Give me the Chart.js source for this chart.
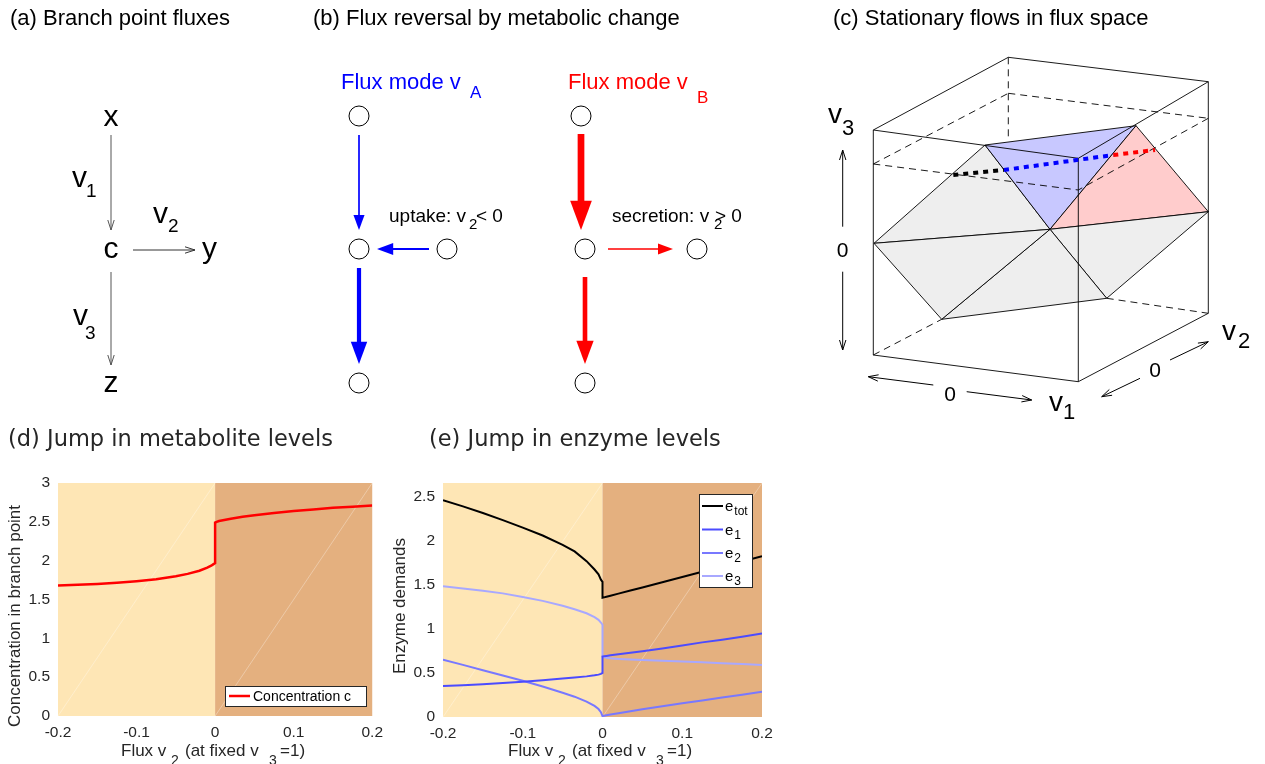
<!DOCTYPE html>
<html>
<head>
<meta charset="utf-8">
<title>Branch point flux reversal</title>
<script src="https://cdn.jsdelivr.net/npm/chart.js@4.4.1/dist/chart.umd.min.js"></script>
<style>
  html, body { margin: 0; padding: 0; background: #fff; }
  body { position: relative; width: 1265px; height: 764px; overflow: hidden; }
  canvas { position: absolute; }
</style>
</head>
<body>
<canvas id="diagram" width="1265" height="420" style="left:0;top:0"></canvas>
<canvas id="chartD" width="390" height="344" style="left:0;top:420px"></canvas>
<canvas id="chartE" width="390" height="344" style="left:390px;top:420px"></canvas>
<script>
const FONT = '"Liberation Sans", Arial, sans-serif';
const TITLE_FONT = '"DejaVu Sans", sans-serif';
Chart.defaults.font.family = FONT;
Chart.defaults.color = '#262626';

// ---- (d), (e): sweep of v2 at fixed v3 = 1 ----
const v2Left  = [-0.2, -0.175, -0.15, -0.125, -0.1, -0.075, -0.05, -0.035, -0.02, -0.01, -0.005, -0.002, 0];
const v2Right = [0, 0.002, 0.005, 0.01, 0.02, 0.035, 0.05, 0.075, 0.1, 0.125, 0.15, 0.175, 0.2];

const concLeft  = [1.68, 1.69, 1.70, 1.715, 1.735, 1.76, 1.80, 1.83, 1.87, 1.91, 1.935, 1.955, 1.97];
const concRight = [2.49, 2.50, 2.51, 2.52, 2.54, 2.565, 2.585, 2.615, 2.64, 2.66, 2.68, 2.695, 2.71];

const eTotLeft  = [2.455, 2.385, 2.31, 2.23, 2.145, 2.055, 1.95, 1.875, 1.765, 1.67, 1.615, 1.555, 1.53];
const eTotRight = [1.35, 1.355, 1.362, 1.374, 1.397, 1.432, 1.467, 1.526, 1.585, 1.644, 1.703, 1.762, 1.82];
const e1Left  = [0.35, 0.36, 0.372, 0.385, 0.40, 0.415, 0.435, 0.447, 0.46, 0.472, 0.48, 0.488, 0.50];
const e1Right = [0.685, 0.688, 0.692, 0.698, 0.71, 0.728, 0.745, 0.777, 0.81, 0.845, 0.875, 0.91, 0.945];
const e2Left  = [0.65, 0.59, 0.53, 0.47, 0.41, 0.345, 0.275, 0.23, 0.175, 0.125, 0.09, 0.055, 0.01];
const e2Right = [0.01, 0.015, 0.02, 0.028, 0.043, 0.065, 0.088, 0.122, 0.155, 0.188, 0.22, 0.252, 0.285];
const e3Left  = [1.48, 1.455, 1.43, 1.40, 1.36, 1.315, 1.26, 1.22, 1.175, 1.13, 1.1, 1.07, 1.045];
const e3Right = [0.685, 0.678, 0.672, 0.665, 0.658, 0.65, 0.645, 0.636, 0.628, 0.62, 0.61, 0.60, 0.59];

const xTicks  = [-0.2, -0.1, 0, 0.1, 0.2];
const yTicksD = [0, 0.5, 1, 1.5, 2, 2.5, 3];
const yTicksE = [0, 0.5, 1, 1.5, 2, 2.5];
const enzymeNames = ['e_tot', 'e_1', 'e_2', 'e_3'];

// ---- (b): flux modes A and B (arrow weight ~ flux size) ----
const modeNodes = [
  { x: 359, y: 116 }, { x: 359, y: 249 }, { x: 359, y: 383 }, { x: 447, y: 249 },
  { x: 581, y: 116 }, { x: 585, y: 249 }, { x: 585, y: 383 }, { x: 697, y: 249 }
];
const modeArrows = [
  { from: [359, 135], to: [359, 230], color: '#0000ff', flux: 0.4 },
  { from: [429, 249], to: [377, 249], color: '#0000ff', flux: 0.5 },
  { from: [359, 268], to: [359, 364], color: '#0000ff', flux: 1.0 },
  { from: [581, 134], to: [581, 230], color: '#ff0000', flux: 1.6 },
  { from: [608, 249], to: [673, 249], color: '#ff0000', flux: 0.4 },
  { from: [585, 277], to: [585, 364], color: '#ff0000', flux: 1.1 }
];

// ---- (c): flux space box and stationary plane ----
const cube = {
  A: [873.3, 130], B: [1008.3, 57.3], C: [1208.3, 81.7], D: [1078.3, 158.3],
  E: [873.3, 355], F: [1078.3, 381.7], G: [1208.3, 313.3]
};
const plane = {
  P1: [874, 243.3], P2: [985, 145], P3: [1136, 125.7], P4: [1208.3, 211.7],
  P5: [1106.7, 298.3], P6: [941.7, 319.3], O: [1050, 229.3]
};
const boxEdges = [['A','B'], ['B','C'], ['A','D'], ['D','C'], ['A','E'], ['C','G'], ['D','F'], ['E','F'], ['F','G']];
const hiddenEdges = [[cube.B, [1008.3, 136.7]], [cube.E, plane.P6], [plane.P5, cube.G]];
const midPlane = [[[873.3, 164], [1008.3, 93.3]], [[1008.3, 93.3], [1208.3, 118.3]],
                  [[1208.3, 118.3], [1078.3, 190]], [[873.3, 164], [1078.3, 190]]];
const facets = [
  { pts: ['P1','P2','O'], fill: '#eeeeee' },
  { pts: ['P2','P3','O'], fill: '#c8c8ff' },
  { pts: ['P3','P4','O'], fill: '#ffcccc' },
  { pts: ['P4','P5','O'], fill: '#eeeeee' },
  { pts: ['P5','P6','O'], fill: '#eeeeee' },
  { pts: ['P6','P1','O'], fill: '#eeeeee' }
];
const stationaryPath = [
  { from: [953.3, 175], to: [1004, 170], color: '#000000' },
  { from: [1004, 170], to: [1113.3, 155], color: '#0000ff' },
  { from: [1113.3, 155], to: [1155, 150], color: '#ff0000' }
];

// open arrows of (a) and (c)
const openArrows = [
  { from: [111, 135], to: [111, 230], color: '#555555' },
  { from: [133, 250], to: [195, 250], color: '#333333' },
  { from: [111, 272], to: [111, 365], color: '#555555' },
  { from: [842.7, 226.7], to: [842.7, 150], color: '#000' },
  { from: [842.7, 271.7], to: [842.7, 350], color: '#000' },
  { from: [933.3, 385], to: [868.3, 376.7], color: '#000' },
  { from: [966.7, 391.7], to: [1031.7, 400], color: '#000' },
  { from: [1140, 378.3], to: [1101.7, 396.7], color: '#000' },
  { from: [1170, 360], to: [1208.3, 341.7], color: '#000' }
];

const diagramTexts = [
  { t: '(a) Branch point fluxes', x: 10, y: 25, s: 22 },
  { t: '(b) Flux reversal by metabolic change', x: 313, y: 25, s: 22 },
  { t: '(c) Stationary flows in flux space', x: 833, y: 25, s: 22 },
  { t: 'x', x: 111, y: 126, s: 30, a: 'center' },
  { t: 'c', x: 111, y: 258, s: 30, a: 'center' },
  { t: 'y', x: 202, y: 258, s: 30 },
  { t: 'z', x: 111, y: 392, s: 30, a: 'center' },
  { t: 'v', x: 72, y: 187, s: 30 }, { t: '1', x: 86, y: 197, s: 19 },
  { t: 'v', x: 153, y: 223, s: 30 }, { t: '2', x: 168, y: 232, s: 19 },
  { t: 'v', x: 73, y: 325, s: 30 }, { t: '3', x: 85, y: 339, s: 19 },
  { t: 'Flux mode v', x: 341, y: 89, s: 22, c: '#0000ff' }, { t: 'A', x: 470, y: 98, s: 17, c: '#0000ff' },
  { t: 'Flux mode v', x: 568, y: 89, s: 22, c: '#ff0000' }, { t: 'B', x: 697, y: 103, s: 17, c: '#ff0000' },
  { t: 'uptake: v', x: 389, y: 222, s: 19 }, { t: '2', x: 469, y: 229, s: 15 }, { t: '< 0', x: 476, y: 222, s: 19 },
  { t: 'secretion: v', x: 612, y: 222, s: 19 }, { t: '2', x: 714, y: 229, s: 15 }, { t: '> 0', x: 715, y: 222, s: 19 },
  { t: 'v', x: 828, y: 123, s: 28 }, { t: '3', x: 842, y: 135, s: 22 },
  { t: '0', x: 842.7, y: 257, s: 21, a: 'center' },
  { t: '0', x: 950, y: 401, s: 21, a: 'center' },
  { t: 'v', x: 1049, y: 411, s: 28 }, { t: '1', x: 1063, y: 419, s: 22 },
  { t: '0', x: 1155, y: 377, s: 21, a: 'center' },
  { t: 'v', x: 1222, y: 340, s: 28 }, { t: '2', x: 1238, y: 348, s: 22 }
];

function sweep(left, right) {
  const pts = v2Left.map((v, i) => ({ x: v, y: left[i] }));
  return pts.concat(v2Right.map((v, i) => ({ x: v, y: right[i] })));
}

function text(ctx, str, x, y, size, opt = {}) {
  ctx.font = size + 'px ' + (opt.family || FONT);
  ctx.fillStyle = opt.color || '#000';
  ctx.textAlign = opt.align || 'left';
  ctx.textBaseline = 'alphabetic';
  ctx.fillText(str, x, y);
}

function openArrow(ctx, p, q, color) {
  const dx = q[0] - p[0], dy = q[1] - p[1], L = Math.hypot(dx, dy);
  const ux = dx / L, uy = dy / L, len = 10, half = 3.2;
  ctx.strokeStyle = color; ctx.lineWidth = 1;
  ctx.beginPath();
  ctx.moveTo(p[0], p[1]); ctx.lineTo(q[0], q[1]);
  ctx.moveTo(q[0] - ux * len - uy * half, q[1] - uy * len + ux * half);
  ctx.lineTo(q[0], q[1]);
  ctx.lineTo(q[0] - ux * len + uy * half, q[1] - uy * len - ux * half);
  ctx.stroke();
}

function fluxArrow(ctx, p, q, color, flux) {
  const dx = q[0] - p[0], dy = q[1] - p[1], L = Math.hypot(dx, dy);
  const ux = dx / L, uy = dy / L;
  const shaft = 4.2 * flux, half = 3.8 + 4.4 * flux, len = 2.7 * half;
  ctx.strokeStyle = color; ctx.fillStyle = color; ctx.lineWidth = shaft; ctx.lineCap = 'butt';
  ctx.beginPath();
  ctx.moveTo(p[0], p[1]); ctx.lineTo(q[0] - ux * len * 0.9, q[1] - uy * len * 0.9);
  ctx.stroke();
  ctx.beginPath();
  ctx.moveTo(q[0], q[1]);
  ctx.lineTo(q[0] - ux * len - uy * half, q[1] - uy * len + ux * half);
  ctx.lineTo(q[0] - ux * len + uy * half, q[1] - uy * len - ux * half);
  ctx.closePath();
  ctx.fill();
}

const diagramPlugin = {
  id: 'diagramPlugin',
  beforeDatasetsDraw(chart) {
    const { ctx, scales: { x, y } } = chart;
    const P = p => [x.getPixelForValue(p[0]), y.getPixelForValue(p[1])];
    const seg = (p, q) => {
      const a = P(p), b = P(q);
      ctx.beginPath(); ctx.moveTo(a[0], a[1]); ctx.lineTo(b[0], b[1]); ctx.stroke();
    };
    ctx.save();
    ctx.strokeStyle = '#000';
    ctx.lineWidth = 0.9;
    ctx.setLineDash([7, 5]);
    hiddenEdges.forEach(([p, q]) => seg(p, q));
    ctx.setLineDash([]);

    facets.forEach(f => {
      ctx.beginPath();
      f.pts.forEach((k, i) => {
        const q = P(plane[k]);
        if (i) ctx.lineTo(q[0], q[1]); else ctx.moveTo(q[0], q[1]);
      });
      ctx.closePath();
      ctx.fillStyle = f.fill;
      ctx.fill();
      ctx.stroke();
    });

    ctx.setLineDash([7, 5]);
    midPlane.forEach(([p, q]) => seg(p, q));
    ctx.setLineDash([]);
    boxEdges.forEach(([a, b]) => seg(cube[a], cube[b]));

    ctx.lineWidth = 4;
    ctx.setLineDash([5, 5]);
    stationaryPath.forEach(s => { ctx.strokeStyle = s.color; seg(s.from, s.to); });
    ctx.setLineDash([]);

    openArrows.forEach(a => openArrow(ctx, P(a.from), P(a.to), a.color));
    modeArrows.forEach(a => fluxArrow(ctx, P(a.from), P(a.to), a.color, a.flux));
    ctx.restore();
  },
  afterDatasetsDraw(chart) {
    const { ctx, scales: { x, y } } = chart;
    ctx.save();
    diagramTexts.forEach(d => {
      text(ctx, d.t, x.getPixelForValue(d.x), y.getPixelForValue(d.y), d.s, { color: d.c, align: d.a });
    });
    ctx.restore();
  }
};

new Chart(document.getElementById('diagram'), {
  type: 'scatter',
  data: {
    datasets: [{
      data: modeNodes,
      pointRadius: 10,
      pointBackgroundColor: '#ffffff',
      pointBorderColor: '#000000',
      pointBorderWidth: 1,
      clip: false
    }]
  },
  options: {
    responsive: false,
    animation: false,
    devicePixelRatio: 1,
    events: [],
    layout: { padding: 0, autoPadding: false },
    scales: {
      x: { display: false, min: 0, max: 1265 },
      y: { display: false, min: 0, max: 420, reverse: true }
    },
    plugins: { legend: { display: false }, tooltip: { enabled: false } }
  },
  plugins: [diagramPlugin]
});

// background halves, titles, labels and legend of (d) and (e)
const fluxPanel = {
  id: 'fluxPanel',
  beforeDatasetsDraw(chart) {
    const { ctx, chartArea: a, scales: { x } } = chart;
    const x0 = x.getPixelForValue(0);
    ctx.save();
    ctx.fillStyle = '#fee6b5';
    ctx.fillRect(a.left, a.top, x0 - a.left, a.bottom - a.top);
    ctx.fillStyle = '#e4b07f';
    ctx.fillRect(x0, a.top, a.right - x0, a.bottom - a.top);
    ctx.strokeStyle = 'rgba(255,255,255,0.45)';
    ctx.lineWidth = 0.7;
    ctx.beginPath();
    ctx.moveTo(a.left, a.bottom); ctx.lineTo(x0, a.top);
    ctx.moveTo(x0, a.bottom); ctx.lineTo(a.right, a.top);
    ctx.stroke();
    ctx.restore();
  },
  afterDraw(chart, args, o) {
    const { ctx } = chart;
    const ink = '#262626';
    ctx.save();
    text(ctx, o.title, o.titleX, 26, 22.5, { family: TITLE_FONT, color: ink });

    ctx.save();
    ctx.translate(o.yLabelX, o.yLabelY);
    ctx.rotate(-Math.PI / 2);
    text(ctx, o.yLabel, 0, 0, 17, { align: 'center', color: ink });
    ctx.restore();

    const xs = o.xLabelX, yb = 336;
    text(ctx, 'Flux v', xs, yb, 17, { color: ink });
    text(ctx, '2', xs + 50, yb + 9, 14, { color: ink });
    text(ctx, '(at fixed v', xs + 64, yb, 17, { color: ink });
    text(ctx, '3', xs + 148, yb + 9, 14, { color: ink });
    text(ctx, '=1)', xs + 159, yb, 17, { color: ink });

    const L = o.legend;
    ctx.fillStyle = '#fff';
    ctx.fillRect(L.x, L.y, L.w, L.h);
    ctx.strokeStyle = ink;
    ctx.lineWidth = 1;
    ctx.strokeRect(L.x + 0.5, L.y + 0.5, L.w, L.h);
    chart.data.datasets.forEach((ds, i) => {
      const ry = L.rows[i];
      ctx.strokeStyle = ds.borderColor;
      ctx.lineWidth = ds.borderWidth;
      ctx.beginPath(); ctx.moveTo(L.line[0], ry); ctx.lineTo(L.line[1], ry); ctx.stroke();
      const [main, sub] = ds.label.split('_');
      text(ctx, main, L.textX, ry + 5, L.size, { color: '#000' });
      if (sub) {
        ctx.font = L.size + 'px ' + FONT;
        text(ctx, sub, L.textX + ctx.measureText(main).width + 1, ry + 9, L.sub, { color: '#000' });
      }
    });
    ctx.restore();
  }
};

function sweepScales(yMax, yTicks, yWidth, xHeight) {
  return {
    x: {
      type: 'linear', min: -0.2, max: 0.2,
      grid: { display: false, drawTicks: false }, border: { display: false },
      afterBuildTicks: s => { s.ticks = xTicks.map(v => ({ value: v })); },
      afterFit: s => { s.height = xHeight; },
      ticks: { autoSkip: false, maxRotation: 0, padding: 7, font: { size: 15.5 }, callback: v => String(v) }
    },
    y: {
      type: 'linear', min: 0, max: yMax,
      grid: { display: false, drawTicks: false }, border: { display: false },
      afterBuildTicks: s => { s.ticks = yTicks.map(v => ({ value: v })); },
      afterFit: s => { s.width = yWidth; },
      ticks: { autoSkip: false, padding: 8, font: { size: 15.5 }, callback: v => String(v) }
    }
  };
}

new Chart(document.getElementById('chartD'), {
  type: 'line',
  data: {
    datasets: [{
      label: 'Concentration c',
      data: sweep(concLeft, concRight),
      borderColor: '#ff0000', borderWidth: 2.5, pointRadius: 0, tension: 0
    }]
  },
  options: {
    responsive: false, animation: false, devicePixelRatio: 1, events: [],
    layout: { padding: { top: 63, right: 14, left: 0, bottom: 0 } },
    scales: sweepScales(3, yTicksD, 58, 48),
    plugins: {
      legend: { display: false }, tooltip: { enabled: false },
      fluxPanel: {
        title: '(d) Jump in metabolite levels', titleX: 8,
        yLabel: 'Concentration in branch point', yLabelX: 20, yLabelY: 196,
        xLabelX: 121,
        legend: { x: 225, y: 266, w: 141, h: 20, rows: [276], line: [229, 250], textX: 253, size: 14, sub: 11 }
      }
    }
  },
  plugins: [fluxPanel]
});

const enzymeColors = ['#000000', '#4b4bff', '#7878ff', '#a8a8ff'];
const enzymeSeries = [[eTotLeft, eTotRight], [e1Left, e1Right], [e2Left, e2Right], [e3Left, e3Right]];

new Chart(document.getElementById('chartE'), {
  type: 'line',
  data: {
    datasets: enzymeSeries.map((s, i) => ({
      label: enzymeNames[i],
      data: sweep(s[0], s[1]),
      borderColor: enzymeColors[i], borderWidth: 2, pointRadius: 0, tension: 0
    }))
  },
  options: {
    responsive: false, animation: false, devicePixelRatio: 1, events: [],
    layout: { padding: { top: 63, right: 18, left: 0, bottom: 0 } },
    scales: sweepScales(2.65, yTicksE, 53, 47),
    plugins: {
      legend: { display: false }, tooltip: { enabled: false },
      fluxPanel: {
        title: '(e) Jump in enzyme levels', titleX: 39,
        yLabel: 'Enzyme demands', yLabelX: 15, yLabelY: 186,
        xLabelX: 118,
        legend: { x: 309, y: 74, w: 53, h: 93, rows: [86, 109.5, 133, 156], line: [312, 333], textX: 335, size: 15, sub: 12 }
      }
    }
  },
  plugins: [fluxPanel]
});
</script>
</body>
</html>
